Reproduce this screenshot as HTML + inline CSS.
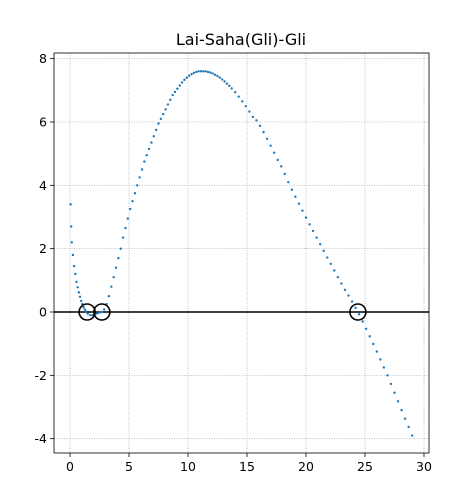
<!DOCTYPE html>
<html><head><meta charset="utf-8"><style>
body{margin:0;background:#fff;}
svg text{font-family:"DejaVu Sans","Liberation Sans",sans-serif;}
</style></head><body>
<svg id="chart" width="463" height="494" xmlns="http://www.w3.org/2000/svg">
<rect width="463" height="494" fill="#fff"/>
<text x="241" y="45" font-size="16" text-anchor="middle">Lai-Saha(Gli)-Gli</text>
<g id="grid"></g>
<g id="marks"></g>
<g id="axes"></g>
</svg>
<script>
const xVals=[0.05,0.1,0.15,0.25,0.35,0.45,0.55,0.65,0.75,0.85,0.95,1.05,1.15,1.25,1.35,1.5,1.7,1.9,2.1,2.3,2.5,2.7,2.9,3.1,3.3,3.5,3.7,3.9,4.1,4.3,4.5,4.7,4.9,5.1,5.3,5.5,5.7,5.9,6.1,6.3,6.5,6.7,6.9,7.1,7.3,7.5,7.7,7.9,8.1,8.3,8.5,8.7,8.9,9.1,9.3,9.5,9.7,9.9,10.1,10.3,10.5,10.7,10.9,11.1,11.3,11.5,11.7,11.9,12.1,12.3,12.5,12.7,12.9,13.1,13.3,13.5,13.7,14.0,14.3,14.6,14.9,15.2,15.5,15.8,16.1,16.4,16.7,17.0,17.3,17.6,17.9,18.2,18.5,18.8,19.1,19.4,19.7,20.0,20.3,20.6,20.9,21.2,21.5,21.8,22.1,22.4,22.7,23.0,23.3,23.6,23.9,24.2,24.5,24.8,25.1,25.4,25.7,26.0,26.3,26.6,26.9,27.2,27.5,27.8,28.1,28.4,28.7,29.0];
const yVals=[3.4,2.7,2.2,1.8,1.45,1.2,0.95,0.78,0.62,0.48,0.35,0.25,0.15,0.08,0.02,-0.05,-0.1,-0.1,-0.08,-0.05,-0.02,0.0,0.08,0.25,0.5,0.8,1.1,1.4,1.7,2.0,2.35,2.65,2.95,3.25,3.5,3.75,4.0,4.25,4.5,4.75,4.95,5.15,5.35,5.55,5.75,5.95,6.1,6.25,6.4,6.55,6.7,6.85,6.95,7.05,7.15,7.25,7.33,7.4,7.46,7.51,7.55,7.58,7.6,7.6,7.6,7.6,7.58,7.56,7.53,7.49,7.45,7.4,7.34,7.28,7.21,7.14,7.06,6.94,6.8,6.65,6.5,6.33,6.16,6.05,5.88,5.68,5.47,5.25,5.03,4.8,4.6,4.36,4.1,3.86,3.64,3.42,3.2,2.98,2.77,2.56,2.35,2.14,1.93,1.72,1.52,1.31,1.1,0.9,0.7,0.52,0.33,0.13,-0.07,-0.3,-0.53,-0.77,-1.01,-1.25,-1.5,-1.75,-2.0,-2.27,-2.55,-2.82,-3.1,-3.37,-3.63,-3.9];
const rootX=[1.45,2.7,24.4];
const xTicks=[0,5,10,15,20,25,30];
const yTicks=[-4,-2,0,2,4,6,8];
const NS="http://www.w3.org/2000/svg";
const L=54,R=429,T=53,B=453;
function sx(x){return 70+x*11.8;}
function sy(y){return 312-y*31.67;}
function mk(tag,attrs,parent){const e=document.createElementNS(NS,tag);for(const k in attrs)e.setAttribute(k,attrs[k]);parent.appendChild(e);return e;}
const grid=document.getElementById('grid'),marks=document.getElementById('marks'),axes=document.getElementById('axes');
xTicks.forEach(t=>{
  const g=mk('line',{x1:sx(t),x2:sx(t),y1:T,y2:B,stroke:'#b0b0b0','stroke-width':0.8,'stroke-dasharray':'1,1.5'},grid);
  
  
  const tk=mk('line',{x1:sx(t),x2:sx(t),y1:B,y2:B+4,stroke:'#000','stroke-width':0.8},axes);
  
  
  const tx=mk('text',{x:sx(t),y:B+18,'font-size':12.5,'text-anchor':'middle'},axes);
  tx.textContent=t;
  
  
});
yTicks.forEach(t=>{
  const g=mk('line',{x1:L,x2:R,y1:sy(t),y2:sy(t),stroke:'#b0b0b0','stroke-width':0.8,'stroke-dasharray':'1,1.5'},grid);
  
  
  const tk=mk('line',{x1:L-4,x2:L,y1:sy(t),y2:sy(t),stroke:'#000','stroke-width':0.8},axes);
  
  
  const tx=mk('text',{x:L-7,y:sy(t)+4.5,'font-size':12.5,'text-anchor':'end'},axes);
  tx.textContent=t;
  
  
});
const zl=mk('line',{x1:L,x2:R,y1:sy(0),y2:sy(0),stroke:'#000','stroke-width':1.6},marks);


xVals.forEach((x,i)=>{
  const c=mk('circle',{cx:sx(x),cy:sy(yVals[i]),r:1.2,fill:'#1f77b4'},marks);
  
  
});
rootX.forEach(x=>{
  const c=mk('circle',{cx:sx(x),cy:sy(0),r:8,fill:'none',stroke:'#000','stroke-width':1.6},marks);
  
  
});
const fr=mk('rect',{x:L,y:T,width:R-L,height:B-T,fill:'none',stroke:'#000','stroke-width':0.8},axes);


</script>
</body></html>
